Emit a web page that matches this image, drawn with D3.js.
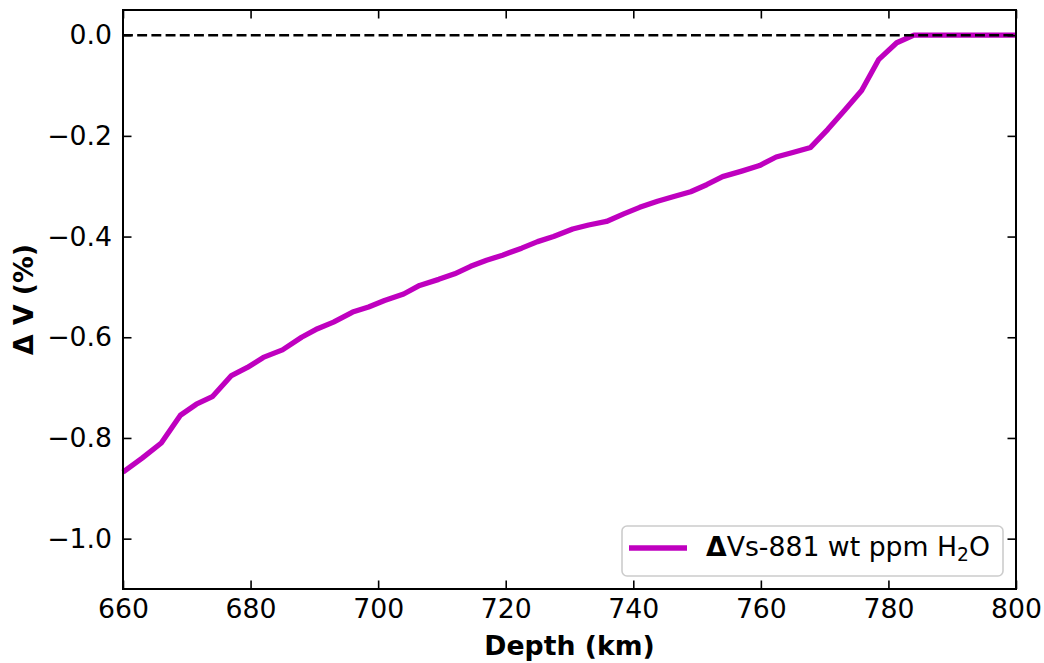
<!DOCTYPE html>
<html>
<head>
<meta charset="utf-8">
<script src="https://cdn.jsdelivr.net/npm/d3@7"></script>
<style>
  body { margin: 0; background: #fff; }
  text { font-family: "DejaVu Sans", sans-serif; }
</style>
</head>
<body>
<svg id="chart" width="1044" height="663"></svg>
<script>
// depth (km) and velocity change (%)
const depth = [660, 663, 666, 669, 671.5, 674, 677, 679.5, 682, 685, 688, 690.5, 693, 696,
  698.5, 701, 704, 706.5, 709.5, 712, 714.5, 717, 719.5, 722.5, 725, 727.5, 730.5, 733, 735.8,
  738.5, 741, 743.8, 746.5, 749, 751.5, 754, 757, 759.8, 762.4, 765, 767.8, 770.5, 773.2,
  775.8, 778.5, 781.3, 784, 790, 800]
const dVs = [-0.868, -0.84, -0.81, -0.755, -0.733, -0.718, -0.676, -0.66, -0.64, -0.625,
  -0.6, -0.583, -0.57, -0.55, -0.54, -0.527, -0.514, -0.497, -0.485, -0.474, -0.459, -0.447,
  -0.437, -0.423, -0.41, -0.4, -0.385, -0.377, -0.37, -0.355, -0.342, -0.33, -0.32, -0.311,
  -0.297, -0.281, -0.27, -0.259, -0.242, -0.233, -0.223, -0.187, -0.148, -0.11, -0.048,
  -0.015, 0, 0, 0]
const xTicks = [660, 680, 700, 720, 740, 760, 780, 800]
const yTicks = [0, -0.2, -0.4, -0.6, -0.8, -1.0]

const svg = d3.select("#chart")
const margin = {left: 123, right: 28, top: 10, bottom: 74}
const width = 1044, height = 663
const fs = 26.7

const x = d3.scaleLinear().domain([660, 800]).range([margin.left, width - margin.right])
const y = d3.scaleLinear().domain([-1.1, 0.05]).range([height - margin.bottom, margin.top])

const fmt = v => d3.format(".1f")(v).replace("-", "\u2212")
const tickLen = 8.5

// data line
const line = d3.line().x((d, i) => x(depth[i])).y(d => y(d))
svg.append("path")
  .datum(dVs)
  .attr("d", line)
  .attr("fill", "none")
  .attr("stroke", "#bf00bf")
  .attr("stroke-width", 5.3)
  .attr("stroke-linejoin", "round")

// zero line, on top of the flat part
svg.append("line")
  .attr("x1", x(660)).attr("x2", x(800))
  .attr("y1", y(0)).attr("y2", y(0))
  .attr("stroke", "black").attr("stroke-width", 2.5)
  .attr("stroke-dasharray", "9.9,4.3")

// axes, ticks inward on all sides
const axBottom = svg.append("g").attr("transform", `translate(0,${y(-1.1)})`)
  .call(d3.axisBottom(x).tickValues(xTicks).tickSizeInner(-tickLen).tickSizeOuter(0).tickPadding(10))
const axTop = svg.append("g").attr("transform", `translate(0,${y(0.05)})`)
  .call(d3.axisTop(x).tickValues(xTicks).tickSizeInner(-tickLen).tickSizeOuter(0).tickFormat(""))
const axLeft = svg.append("g").attr("transform", `translate(${x(660)},0)`)
  .call(d3.axisLeft(y).tickValues(yTicks).tickSizeInner(-tickLen).tickSizeOuter(0).tickPadding(11).tickFormat(fmt))
const axRight = svg.append("g").attr("transform", `translate(${x(800)},0)`)
  .call(d3.axisRight(y).tickValues(yTicks).tickSizeInner(-tickLen).tickSizeOuter(0).tickFormat(""))

;[axBottom, axTop, axLeft, axRight].forEach(g => {
  g.select(".domain").remove()
  g.attr("font-size", null).attr("font-family", null)
  g.selectAll(".tick line").attr("stroke", "black").attr("stroke-width", 1.6)
  g.selectAll(".tick text").attr("font-size", fs).attr("fill", "black")
})

// frame
svg.append("rect")
  .attr("x", x(660)).attr("y", y(0.05))
  .attr("width", x(800) - x(660)).attr("height", y(-1.1) - y(0.05))
  .attr("fill", "none").attr("stroke", "black").attr("stroke-width", 2)

// axis labels
svg.append("text")
  .attr("x", (x(660) + x(800)) / 2).attr("y", 655)
  .attr("text-anchor", "middle").attr("font-size", fs).attr("font-weight", "bold")
  .text("Depth (km)")
svg.append("text")
  .attr("transform", `translate(33,${(y(0.05) + y(-1.1)) / 2}) rotate(-90)`)
  .attr("text-anchor", "middle").attr("font-size", fs).attr("font-weight", "bold")
  .text("\u0394 V (%)")

// legend
const lg = svg.append("g").attr("transform", "translate(622,526)")
lg.append("rect")
  .attr("width", 381).attr("height", 50).attr("rx", 5)
  .attr("fill", "white").attr("fill-opacity", 0.8)
  .attr("stroke", "#cccccc").attr("stroke-width", 1.6)
lg.append("line")
  .attr("x1", 7).attr("x2", 65).attr("y1", 22).attr("y2", 22)
  .attr("stroke", "#bf00bf").attr("stroke-width", 5.3)
const lt = lg.append("text").attr("x", 84).attr("y", 30).attr("font-size", fs)
lt.append("tspan").attr("font-weight", "bold").text("\u0394")
lt.append("tspan").text("Vs-881 wt ppm H")
lt.append("tspan").attr("font-size", fs * 0.7).attr("dy", 5).text("2")
lt.append("tspan").attr("dy", -5).text("O")
</script>
</body>
</html>
